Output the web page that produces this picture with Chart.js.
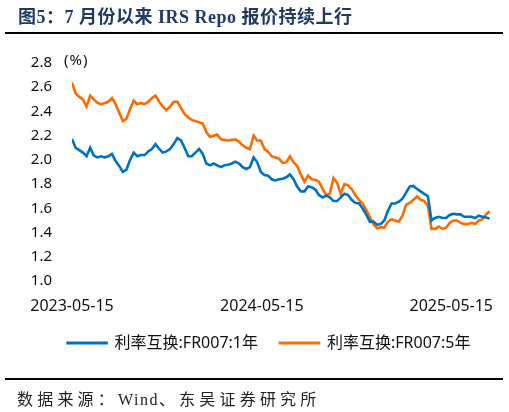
<!DOCTYPE html>
<html>
<head>
<meta charset="utf-8">
<script src="https://cdn.jsdelivr.net/npm/chart.js@4"></script>
<style>
  html, body { margin: 0; padding: 0; background: #fff; }
  #wrap { position: relative; width: 509px; height: 412px; overflow: hidden; background: #fff; }
  #c { position: absolute; left: 0; top: 0; }
  .txt { position: absolute; white-space: nowrap; }
  #rule1 { position: absolute; left: 5px; top: 32px; width: 498px; height: 2px; background: #000; }
  #rule2 { position: absolute; left: 5px; top: 378px; width: 498px; height: 2px; background: #000; }
  #unit { position: absolute; left: 64px; top: 49px; font: 15px "Noto Sans", "Noto Sans CJK SC", sans-serif; color: #111; letter-spacing: 1px; }
  #src { position: absolute; left: 17px; top: 386px; font: 16px "Liberation Serif", "Noto Sans CJK SC", serif; color: #222; }
  #src .cj { letter-spacing: 4.2px; }
  #src .en { letter-spacing: 1.5px; }
</style>
</head>
<body>
<div id="wrap">
  <canvas id="c" width="509" height="412"></canvas>
  <div id="rule1"></div>
  <div id="unit" class="txt">(%)</div>
  <div id="rule2"></div>
  <div id="src" class="txt"><span class="cj">数据来源：</span><span class="en">Wind</span><span class="cj">、东吴证券研究所</span></div>
</div>
<script>
// ---- data (weekly observations starting 2023-05-15) ----
const chartTitle = '图5：7 月份以来 IRS Repo 报价持续上行';
const startDate = '2023-05-15';
const stepDays = 7;
const seriesNames = ['利率互换:FR007:1年', '利率互换:FR007:5年'];
const tickLabels = ['2023-05-15', '2024-05-15', '2025-05-15'];
const yTicks = [1.0, 1.2, 1.4, 1.6, 1.8, 2.0, 2.2, 2.4, 2.6, 2.8];

const irs1y = [
  2.172, 2.10, 2.08, 2.06, 2.03, 2.10, 2.035, 2.02, 2.03, 2.02,
  2.03, 2.05, 1.99, 1.95, 1.90, 1.92, 2.00, 2.06, 2.03, 2.04,
  2.04, 2.07, 2.09, 2.13, 2.09, 2.06, 2.07, 2.09, 2.13, 2.18,
  2.16, 2.10, 2.03, 2.03, 2.06, 2.09, 2.05, 1.97, 1.955, 1.97,
  1.955, 1.94, 1.955, 1.96, 1.97, 1.985, 1.97, 1.94, 1.925, 1.94,
  2.02, 1.98, 1.90, 1.875, 1.87, 1.84, 1.83, 1.84, 1.845, 1.856,
  1.88, 1.84, 1.78, 1.74, 1.74, 1.78, 1.775, 1.755, 1.71, 1.69,
  1.705, 1.69, 1.66, 1.66, 1.69, 1.72, 1.71, 1.67, 1.645, 1.64,
  1.60, 1.55, 1.49, 1.49, 1.465, 1.47, 1.50, 1.58, 1.64, 1.64,
  1.655, 1.68, 1.73, 1.78, 1.785, 1.76, 1.74, 1.72, 1.70, 1.50,
  1.52, 1.53, 1.52, 1.52, 1.545, 1.555, 1.55, 1.55, 1.53, 1.53,
  1.53, 1.52, 1.54, 1.53, 1.525, 1.515
];
const irs5y = [
  2.638, 2.55, 2.52, 2.50, 2.44, 2.53, 2.50, 2.47, 2.46, 2.47,
  2.48, 2.51, 2.46, 2.39, 2.32, 2.34, 2.42, 2.49, 2.46, 2.47,
  2.46, 2.48, 2.51, 2.53, 2.48, 2.44, 2.41, 2.44, 2.48, 2.48,
  2.43, 2.38, 2.35, 2.33, 2.32, 2.31, 2.30, 2.23, 2.19, 2.20,
  2.21, 2.17, 2.165, 2.16, 2.165, 2.17, 2.15, 2.12, 2.10, 2.09,
  2.20, 2.16, 2.16, 2.09, 2.065, 2.03, 2.02, 2.01, 1.975, 1.98,
  2.03, 1.98, 1.95, 1.88, 1.82, 1.87, 1.84, 1.835, 1.82, 1.76,
  1.71, 1.72, 1.85, 1.81, 1.72, 1.80, 1.79, 1.76, 1.71, 1.67,
  1.64, 1.59, 1.53, 1.47, 1.435, 1.445, 1.44, 1.49, 1.51, 1.50,
  1.49, 1.54, 1.63, 1.645, 1.67, 1.70, 1.67, 1.66, 1.62, 1.43,
  1.43, 1.45, 1.43, 1.44, 1.48, 1.50, 1.50, 1.48, 1.47, 1.47,
  1.48, 1.47, 1.50, 1.51, 1.55, 1.575
];

const colors = ['#0070C0', '#FF6A00'];
const DAY = 86400000;
const t0 = Date.parse(startDate);
const tickDays = tickLabels.map(s => Math.round((Date.parse(s) - t0) / DAY));
const toPoints = arr => arr.map((v, i) => ({ x: i * stepDays, y: v }));

const fontFam = '"Noto Sans", "Noto Sans CJK SC", sans-serif';

const titlePlugin = {
  id: 'headTitle',
  afterDraw(chart) {
    const ctx = chart.ctx;
    ctx.save();
    ctx.font = 'bold 18px "Liberation Serif", "Noto Sans CJK SC", serif';
    ctx.fillStyle = '#1F3A63';
    ctx.textAlign = 'left';
    ctx.textBaseline = 'middle';
    if ('letterSpacing' in ctx) ctx.letterSpacing = '0.5px';
    ctx.fillText(chartTitle, 18, 18);
    ctx.restore();
  }
};

new Chart(document.getElementById('c'), {
  type: 'line',
  data: {
    datasets: [irs1y, irs5y].map((arr, k) => ({
      label: seriesNames[k],
      data: toPoints(arr),
      borderColor: colors[k],
      backgroundColor: colors[k],
      borderWidth: 2.6,
      pointRadius: 0,
      tension: 0,
      fill: false
    }))
  },
  plugins: [titlePlugin],
  options: {
    responsive: false,
    animation: false,
    devicePixelRatio: 1,
    layout: { padding: { left: 29, right: 0, top: 63, bottom: 51 } },
    plugins: {
      legend: {
        position: 'bottom',
        labels: {
          boxWidth: 39,
          boxHeight: 0.5,
          padding: 22,
          color: '#111',
          font: { family: fontFam, size: 16 }
        }
      },
      tooltip: { enabled: false }
    },
    scales: {
      x: {
        type: 'linear',
        min: 0,
        max: 840,
        grid: { display: false, drawTicks: false },
        border: { display: false },
        afterBuildTicks: s => { s.ticks = tickDays.map(v => ({ value: v })); },
        afterFit: s => { s.height = 32; },
        ticks: {
          autoSkip: false,
          maxRotation: 0,
          padding: 16,
          color: '#111',
          font: { family: fontFam, size: 16 },
          callback: v => { const i = tickDays.indexOf(v); return i >= 0 ? tickLabels[i] : ''; }
        }
      },
      y: {
        min: 1.0,
        max: 2.8,
        grid: { display: false, drawTicks: false },
        border: { display: false },
        afterBuildTicks: s => { s.ticks = yTicks.map(v => ({ value: v })); },
        afterFit: s => { s.width = 43; },
        ticks: {
          padding: 20,
          color: '#111',
          font: { family: fontFam, size: 15 },
          callback: v => Number(v).toFixed(1)
        }
      }
    }
  }
});
</script>
</body>
</html>
